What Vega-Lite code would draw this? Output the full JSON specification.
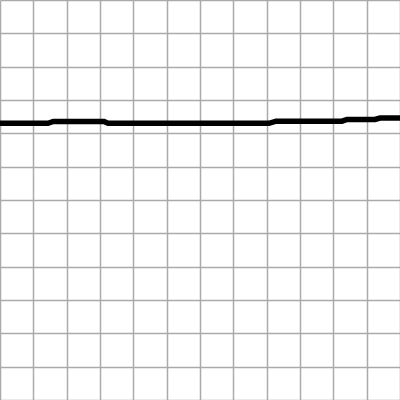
{
  "$schema": "https://vega.github.io/schema/vega-lite/v6.json",
  "width": 400,
  "height": 400,
  "padding": 0,
  "autosize": {"type": "none"},
  "background": "white",
  "config": {
    "view": {"stroke": null},
    "axis": {"domain": false, "ticks": false, "labels": false, "title": null, "grid": true, "gridColor": "#aaaaaa", "gridWidth": 1.5, "gridOpacity": 1, "minExtent": 0, "maxExtent": 0, "offset": 0}
  },
  "data": {
    "values": [
      {"x": 0, "y": 8.30},
      {"x": 1.44, "y": 8.30},
      {"x": 1.60, "y": 8.355},
      {"x": 3.12, "y": 8.355},
      {"x": 3.24, "y": 8.30},
      {"x": 8.07, "y": 8.30},
      {"x": 8.28, "y": 8.364},
      {"x": 10.26, "y": 8.364},
      {"x": 10.41, "y": 8.415},
      {"x": 11.25, "y": 8.415},
      {"x": 11.40, "y": 8.46},
      {"x": 12, "y": 8.46}
    ]
  },
  "mark": {"type": "line", "color": "black", "strokeWidth": 5.5, "interpolate": "linear"},
  "encoding": {
    "x": {"field": "x", "type": "quantitative", "scale": {"domain": [0, 12], "nice": false, "zero": false}, "axis": {"values": [0,1,2,3,4,5,6,7,8,9,10,11,12]}},
    "y": {"field": "y", "type": "quantitative", "scale": {"domain": [0, 12], "nice": false, "zero": false}, "axis": {"values": [0,1,2,3,4,5,6,7,8,9,10,11,12]}}
  }
}
